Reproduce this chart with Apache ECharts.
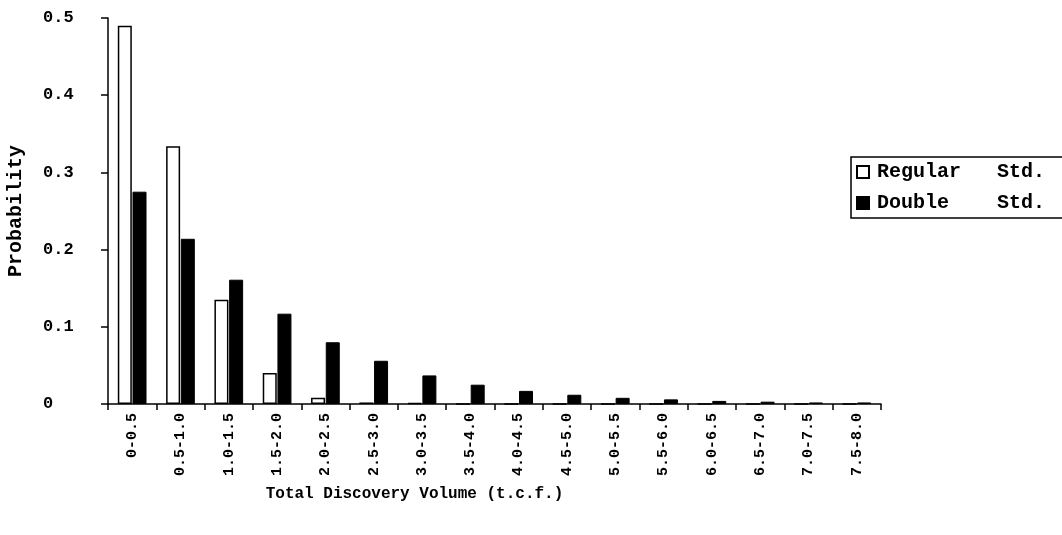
<!DOCTYPE html>
<html>
<head>
<meta charset="utf-8">
<script src="https://cdn.jsdelivr.net/npm/echarts@6/dist/echarts.min.js"></script>
<style>
  html, body { margin: 0; padding: 0; background: #fff; }
  #chart { width: 1062px; height: 535px; }
</style>
</head>
<body>
<div id="chart"></div>
<script>
// Discovery volume classes (t.c.f.)
const categories = ['0-0.5', '0.5-1.0', '1.0-1.5', '1.5-2.0', '2.0-2.5', '2.5-3.0', '3.0-3.5', '3.5-4.0',
  '4.0-4.5', '4.5-5.0', '5.0-5.5', '5.5-6.0', '6.0-6.5', '6.5-7.0', '7.0-7.5', '7.5-8.0'];

// Probability per class, regular standard deviation
const regularStd = [0.490, 0.334, 0.135, 0.040, 0.008, 0.002, 0.001, 0, 0, 0, 0, 0, 0, 0, 0, 0];

// Probability per class, doubled standard deviation
const doubleStd = [0.275, 0.214, 0.161, 0.117, 0.080, 0.056, 0.037, 0.025, 0.017, 0.012, 0.008, 0.006, 0.004, 0.003, 0.002, 0.002];

// Legend entries (padded so the "Std." words line up)
const seriesNames = ['Regular   Std.', 'Double    Std.'];

const yTicks = { min: 0, max: 0.5, interval: 0.1 };

const FONT = '"Liberation Mono", "DejaVu Sans Mono", monospace';

const chart = echarts.init(document.getElementById('chart'), null, { renderer: 'canvas' });

chart.setOption({
  animation: false,
  backgroundColor: '#ffffff',
  grid: { left: 108, right: 181, top: 18, bottom: 131, containLabel: false, outerBoundsMode: 'none' },
  legend: {
    orient: 'vertical',
    left: 851,
    top: 157,
    padding: [5, 60, 5, 5],
    itemGap: 11,
    itemWidth: 12,
    itemHeight: 12,
    icon: 'rect',
    borderColor: '#000',
    borderWidth: 1.5,
    backgroundColor: '#fff',
    textStyle: { fontFamily: FONT, fontSize: 20, fontWeight: 'bold', color: '#000', padding: [0, 0, 0, 3] },
    data: seriesNames
  },
  xAxis: {
    type: 'category',
    data: categories,
    boundaryGap: true,
    name: 'Total Discovery Volume (t.c.f.)',
    nameLocation: 'middle',
    nameGap: 82,
    nameTextStyle: { fontFamily: FONT, fontSize: 16, fontWeight: 'bold', color: '#000', padding: [0, 160, 0, 0] },
    axisLine: { show: true, lineStyle: { color: '#000', width: 1.5 } },
    axisTick: { show: true, alignWithLabel: false, length: 6, lineStyle: { color: '#000', width: 1.5 } },
    axisLabel: {
      rotate: 90,
      interval: 0,
      margin: 9,
      fontFamily: FONT,
      fontSize: 15,
      fontWeight: 'bold',
      color: '#000'
    },
    splitLine: { show: false }
  },
  yAxis: {
    type: 'value',
    min: yTicks.min,
    max: yTicks.max,
    interval: yTicks.interval,
    name: 'Probability',
    nameLocation: 'middle',
    nameGap: 82,
    nameRotate: 90,
    nameTextStyle: { fontFamily: FONT, fontSize: 20, fontWeight: 'bold', color: '#000' },
    axisLine: { show: true, lineStyle: { color: '#000', width: 1.5 } },
    axisTick: { show: true, length: 7, lineStyle: { color: '#000', width: 1.5 } },
    axisLabel: {
      align: 'left',
      margin: 65,
      fontFamily: FONT,
      fontSize: 17,
      fontWeight: 'bold',
      color: '#000',
      formatter: v => (v === 0 ? '0' : v.toFixed(1))
    },
    splitLine: { show: false }
  },
  series: [
    {
      name: seriesNames[0],
      type: 'bar',
      data: regularStd,
      barWidth: 14,
      barGap: '5%',
      itemStyle: { color: '#ffffff', borderColor: '#000', borderWidth: 1.5 }
    },
    {
      name: seriesNames[1],
      type: 'bar',
      data: doubleStd,
      barWidth: 14,
      itemStyle: { color: '#000000', borderColor: '#000', borderWidth: 1 }
    }
  ]
});
</script>
</body>
</html>
